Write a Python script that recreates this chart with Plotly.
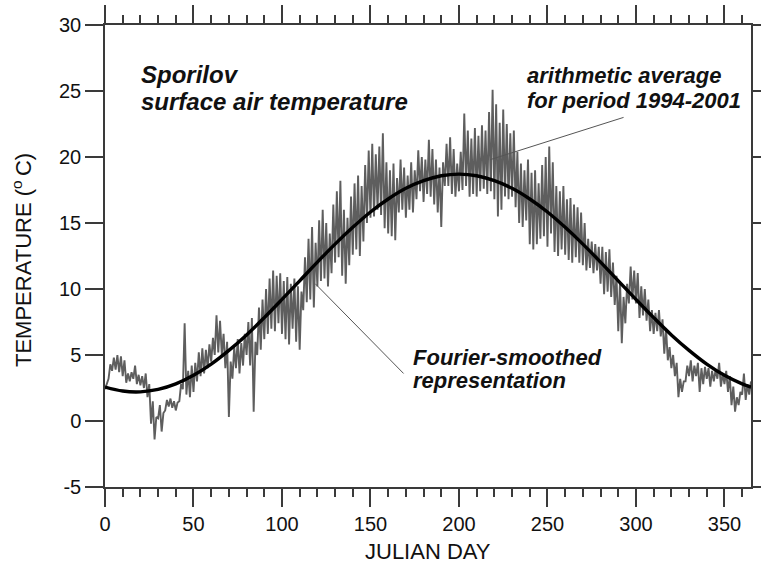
import plotly.graph_objects as go

# ---- data ----
# arithmetic average (1994-2001): daily band (low / high) sampled every 2 days
DAYS = list(range(0, 365, 2))
LOW = [
    2.4, 3.2, 3.8, 3.9, 3.7, 3.4, 2.9, 3.0, 3.2, 2.8,
    2.7, 2.5, 1.8, -0.2, -1.4, 0.2, -0.8, 0.8, 1.1, 1.0,
    0.8, 1.5, 2.4, 2.0, 1.8, 2.2, 3.0, 3.4, 3.6, 4.0,
    4.5, 5.0, 5.2, 5.0, 4.0, 0.3, 3.2, 4.0, 3.6, 4.2,
    5.0, 4.2, 0.7, 5.0, 5.4, 6.2, 6.6, 7.0, 6.8, 7.4,
    6.6, 6.2, 5.8, 7.0, 6.0, 5.4, 8.4, 9.0, 9.2, 8.6,
    10.2, 10.6, 10.8, 10.2, 11.2, 12.0, 12.4, 11.0, 10.4, 11.8,
    12.6, 13.0, 12.5, 13.6, 15.0, 15.4, 15.5, 16.0, 15.6, 14.6,
    14.2, 14.0, 13.7, 15.8, 16.0, 15.4, 16.0, 15.8, 16.8, 17.4,
    16.6, 17.2, 17.0, 16.4, 15.8, 14.7, 17.8, 17.8, 17.2, 17.0,
    17.4, 17.5, 17.8, 17.0, 17.2, 17.0, 17.4, 17.6, 17.2, 17.4,
    16.8, 15.5, 16.0, 17.0, 16.8, 17.0, 16.2, 15.0, 14.7, 15.2,
    13.4, 13.0, 13.4, 13.8, 14.0, 13.2, 14.2, 12.8, 12.5, 13.0,
    12.6, 12.2, 12.0, 12.4, 12.0, 11.8, 11.4, 11.6, 11.2, 11.4,
    10.4, 9.6, 9.8, 9.4, 8.8, 6.8, 5.9, 7.4, 8.9, 9.2,
    8.9, 7.8, 8.0, 7.6, 6.8, 6.6, 6.8, 6.4, 5.1, 4.6,
    4.0, 3.4, 1.8, 2.2, 3.0, 3.4, 3.0, 3.4, 2.2, 2.8,
    3.2, 2.6, 3.0, 3.2, 2.6, 2.8, 2.2, 1.2, 0.7, 1.2,
    2.0, 1.6, 2.0,
]
HIGH = [
    2.8, 4.3, 4.8, 5.0, 4.9, 4.6, 3.6, 3.7, 4.2, 3.5,
    3.4, 3.6, 2.8, 1.5, 0.3, 1.2, 0.6, 1.6, 1.7, 1.5,
    1.4, 2.8, 7.4, 3.8, 4.2, 4.4, 5.2, 5.5, 5.4, 5.8,
    6.3, 8.0, 7.6, 6.6, 6.0, 4.5, 5.6, 6.2, 5.9, 6.6,
    7.5, 7.8, 6.0, 8.6, 9.2, 10.0, 10.8, 11.4, 11.0, 11.2,
    10.6, 10.9, 10.4, 10.8, 10.2, 9.8, 12.4, 13.8, 14.7, 13.5,
    15.2, 16.0, 15.0, 14.2, 16.4, 17.4, 18.2, 16.0, 15.4, 17.0,
    18.0, 18.6, 17.8, 19.4, 20.5, 21.0, 20.2, 20.8, 21.8, 19.6,
    19.0, 19.5, 18.4, 19.8, 19.2, 18.6, 19.6, 19.0, 20.5, 20.0,
    19.8, 21.3, 20.6, 19.8, 19.2, 19.6, 21.0, 21.5, 20.6, 19.5,
    20.4, 23.3, 22.0, 21.4, 22.2, 21.6, 22.4, 22.0, 23.4, 25.1,
    24.0, 22.6, 23.6, 22.5, 21.8, 22.0, 20.4, 19.5, 19.0, 19.8,
    18.8, 19.0, 18.0, 19.4, 20.0, 20.8, 19.6, 17.8, 17.4, 17.8,
    16.8, 16.9, 16.4, 16.2, 15.8, 15.0, 13.8, 13.6, 13.4, 13.2,
    13.2, 12.8, 13.0, 12.0, 11.0, 10.6, 9.4, 10.4, 11.7, 11.4,
    11.2, 10.2, 10.0, 9.2, 8.4, 8.2, 8.4, 7.7, 7.0, 5.6,
    5.0, 4.4, 3.2, 3.0, 4.2, 4.6, 4.2, 4.4, 4.0, 4.1,
    4.0, 3.8, 3.9, 4.4, 3.6, 3.8, 3.4, 2.6, 1.8, 2.2,
    3.6, 2.8, 3.0,
]

# Fourier-smoothed representation, read every 10 days
SMOOTH_DAYS = [0, 10, 20, 30, 40, 50, 60, 70, 80, 90, 100, 110, 120, 130, 140,
               150, 160, 170, 180, 190, 200, 210, 220, 230, 240, 250, 260, 270,
               280, 290, 300, 310, 320, 330, 340, 350, 360, 365]
SMOOTH_T = [2.57, 2.27, 2.21, 2.39, 2.81, 3.46, 4.31, 5.35, 6.52, 7.83, 9.21,
            10.62, 12.04, 13.40, 14.67, 15.83, 16.82, 17.63, 18.21, 18.58, 18.70,
            18.58, 18.21, 17.63, 16.82, 15.83, 14.67, 13.40, 12.04, 10.62, 9.21,
            7.83, 6.52, 5.35, 4.31, 3.46, 2.81, 2.57]

X_TICKS = [0, 50, 100, 150, 200, 250, 300, 350]
Y_TICKS = [-5, 0, 5, 10, 15, 20, 25, 30]
Y_TICK_TEXT = ["-5", "0", "5", "10", "15", "20", "25", "30"]

# ---- build band as a zig-zag trace between daily low and high ----
band_x, band_y = [], []
for d, lo, hi in zip(DAYS, LOW, HIGH):
    band_x += [d, d + 1]
    band_y += [lo, hi]

FONT = "Liberation Sans"
AX = "#3a3a3a"

fig = go.Figure()
fig.add_trace(go.Scatter(x=band_x, y=band_y, mode="lines",
                         line=dict(color="#5e5e5e", width=1.9),
                         hoverinfo="skip", showlegend=False))
fig.add_trace(go.Scatter(x=SMOOTH_DAYS, y=SMOOTH_T, mode="lines",
                         line=dict(color="#000000", width=3.4, shape="spline", smoothing=1.0),
                         showlegend=False))

W, H = 761, 564
ML, MR, MT, MB = 105, 10, 25, 77
PW, PH = W - ML - MR, H - MT - MB


def px(xp, yp):
    return (xp - ML) / PW, (H - MB - yp) / PH


def add_text(text, xp, yp, size, bold_italic=True, anchor="left", angle=0):
    xx, yy = px(xp, yp)
    t = f"<b><i>{text}</i></b>" if bold_italic else text
    fig.add_annotation(text=t, x=xx, y=yy, xref="paper", yref="paper",
                       xanchor=anchor, yanchor="middle", showarrow=False,
                       textangle=angle,
                       font=dict(family=FONT, size=size, color="#111111"))


add_text("Sporilov", 139, 74.6, 24)
add_text("surface air temperature", 139, 101.6, 24)
add_text("arithmetic average", 525, 75.6, 22)
add_text("for period 1994-2001", 525, 100.6, 22)
add_text("Fourier-smoothed", 411, 357.3, 22)
add_text("representation", 411, 380.3, 22)
add_text("TEMPERATURE (<sup>o </sup>C)", 22, 260, 22, bold_italic=False, anchor="center", angle=-90)
add_text("JULIAN DAY", 428, 551, 22, bold_italic=False, anchor="center")

# leader lines
fig.add_shape(type="line", x0=118.8, y0=10.4, x1=168.7, y1=3.6, xref="x", yref="y",
              line=dict(color="#555555", width=1))
fig.add_shape(type="line", x0=217.7, y0=19.8, x1=293.0, y1=23.0, xref="x", yref="y",
              line=dict(color="#555555", width=1))

axis_common = dict(showgrid=False, zeroline=False, showline=True, linecolor=AX,
                   linewidth=1.5, mirror="ticks", ticks="outside", ticklen=18,
                   tickwidth=1.5, tickcolor=AX,
                   tickfont=dict(family=FONT, size=20, color="#111111"))

fig.update_xaxes(range=[0, 365], tickvals=X_TICKS, **axis_common,
                 minor=dict(dtick=10, tick0=0, ticks="outside", ticklen=8,
                            tickwidth=1.5, tickcolor=AX))
fig.update_yaxes(range=[-5, 30], tickvals=Y_TICKS, ticktext=Y_TICK_TEXT, **axis_common)

fig.update_layout(width=W, height=H, margin=dict(l=ML, r=MR, t=MT, b=MB, autoexpand=False),
                  plot_bgcolor="white", paper_bgcolor="white", showlegend=False)

fig.write_html("out.html")
